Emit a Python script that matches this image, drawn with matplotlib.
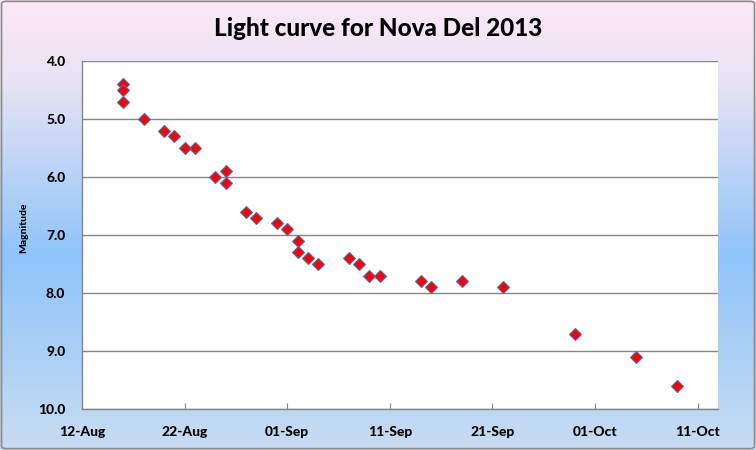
import numpy as np
import pandas as pd
import matplotlib
matplotlib.use("Agg")
import matplotlib.pyplot as plt
import matplotlib.dates as mdates
from matplotlib.colors import LinearSegmentedColormap
from matplotlib.patches import FancyBboxPatch

plt.rcParams['font.family'] = ['Lato', 'DejaVu Sans']

dates = ['2013-08-16', '2013-08-16', '2013-08-16', '2013-08-18', '2013-08-20',
         '2013-08-21', '2013-08-22', '2013-08-23', '2013-08-25', '2013-08-26',
         '2013-08-26', '2013-08-28', '2013-08-29', '2013-08-31', '2013-09-01',
         '2013-09-02', '2013-09-02', '2013-09-03', '2013-09-04', '2013-09-07',
         '2013-09-08', '2013-09-09', '2013-09-10', '2013-09-14', '2013-09-15',
         '2013-09-18', '2013-09-22', '2013-09-29', '2013-10-05', '2013-10-09']
magnitude = [4.4, 4.5, 4.7, 5.0, 5.2,
             5.3, 5.5, 5.5, 6.0, 5.9,
             6.1, 6.6, 6.7, 6.8, 6.9,
             7.1, 7.3, 7.4, 7.5, 7.4,
             7.5, 7.7, 7.7, 7.8, 7.9,
             7.8, 7.9, 8.7, 9.1, 9.6]
yticks = [4.0, 5.0, 6.0, 7.0, 8.0, 9.0, 10.0]

df = pd.DataFrame({'date': pd.to_datetime(dates), 'mag': magnitude})

fig = plt.figure(figsize=(7.56, 4.5), dpi=100)

# background gradient like the Excel chart area
bg = fig.add_axes([0, 0, 1, 1], zorder=0)
cmap = LinearSegmentedColormap.from_list('bg', [
    (0.0, '#fce9f6'), (0.18, '#e8e3f3'), (0.57, '#8ec4fa'), (1.0, '#c8dcf2')])
grad = np.linspace(0, 1, 256).reshape(-1, 1)
bg.imshow(grad, aspect='auto', cmap=cmap, extent=[0, 1, 0, 1], origin='upper')
bg.set_xlim(0, 1)
bg.set_ylim(0, 1)
bg.axis('off')
bg.add_patch(FancyBboxPatch((0.002, 0.003), 0.996, 0.994,
                            boxstyle='round,pad=0,rounding_size=0.006',
                            fill=False, edgecolor='#8c8c8c', linewidth=1.2,
                            transform=bg.transAxes))

ax = fig.add_axes([0.1085, 0.0911, 0.8415, 0.7733], zorder=1)
ax.set_facecolor('white')

ax.plot(df['date'], df['mag'], linestyle='none', marker='D', markersize=5.8,
        markerfacecolor='#ff0000', markeredgecolor='#4a6eb5', markeredgewidth=0.8,
        zorder=3, clip_on=False)

ax.set_ylim(10.0, 4.0)
ax.set_yticks(yticks)
ax.set_yticklabels(['%.1f' % v for v in yticks], fontsize=10, fontweight='black')
ax.yaxis.grid(True, color='#868686', linewidth=1.0)
ax.set_axisbelow(True)
ax.tick_params(axis='y', length=0, pad=12)

xmin = pd.Timestamp('2013-08-12')
ax.set_xlim(xmin, pd.Timestamp('2013-10-13'))
ax.set_xticks(pd.date_range(xmin, periods=7, freq='10D'))
ax.xaxis.set_major_formatter(mdates.DateFormatter('%d-%b'))
ax.tick_params(axis='x', direction='in', length=4, color='#868686', pad=12)
for lbl in ax.get_xticklabels():
    lbl.set_fontsize(10)
    lbl.set_fontweight('black')

for side in ['top', 'right']:
    ax.spines[side].set_visible(False)
for side in ['left', 'bottom']:
    ax.spines[side].set_color('#868686')
    ax.spines[side].set_linewidth(1.0)

ax.set_ylabel('Magnitude', fontsize=7.5, fontweight='black')
ax.yaxis.set_label_coords(-0.085, 0.52)

fig.text(0.5, 0.937, 'Light curve for Nova Del 2013', ha='center', va='center',
         fontsize=17.5, fontweight='black')

fig.savefig('out.png', dpi=100)
